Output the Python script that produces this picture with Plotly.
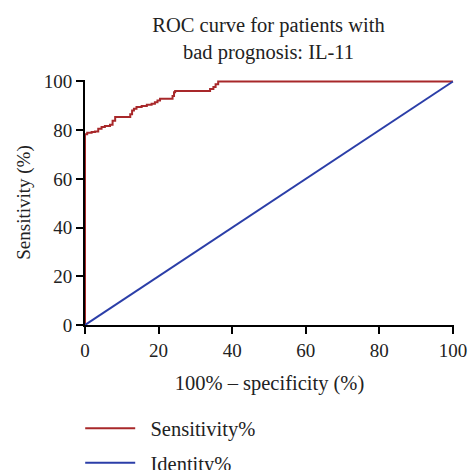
import plotly.graph_objects as go

# ROC curve points (100% - specificity, sensitivity)
fpr = [0, 0, 0.6, 1.8, 2.7, 3.6, 4.5, 5.4, 6.8, 7.5, 8.2, 12.3, 12.8, 13.3, 14.0,
       15.4, 16.8, 18.1, 19.0, 19.7, 20.4, 23.8, 24.2, 24.5, 34.0, 34.9, 35.5, 36.2, 100]
sens = [0, 78.3, 78.9, 79.2, 79.5, 80.6, 81.3, 81.7, 82.2, 83.9, 85.4, 86.5, 88.1, 88.8, 89.5,
        89.9, 90.4, 90.8, 91.5, 92.2, 92.9, 94.0, 95.6, 96.1, 96.9, 97.7, 98.9, 100, 100]
identity_x = [0, 100]
identity_y = [0, 100]
ticks = [0, 20, 40, 60, 80, 100]

FONT = "Liberation Serif"
RED = "#a8282a"
BLUE = "#2b3ea8"
TXT = "#222"

fig = go.Figure()
fig.add_trace(go.Scatter(x=fpr, y=sens, mode="lines", line=dict(color=RED, width=2, shape="hv"),
                         name="\u2002Sensitivity%", legendgroup="a"))
fig.add_trace(go.Scatter(x=identity_x, y=identity_y, mode="lines", line=dict(color=BLUE, width=2),
                         name="\u2002Identity%", legendgroup="b"))

axis_common = dict(tickvals=ticks, showgrid=False, zeroline=False,
                   showline=True, linecolor="black", linewidth=2,
                   ticks="outside", ticklen=7, tickwidth=2, tickcolor="black",
                   tickfont=dict(family=FONT, size=19, color=TXT))
fig.update_xaxes(**axis_common, range=[0, 100.3],
                 title=dict(text="100% \u2013 specificity (%)", font=dict(family=FONT, size=20.5, color=TXT),
                            standoff=16))
fig.update_yaxes(**axis_common, range=[0, 100.6],
                 title=dict(text="Sensitivity (%)", font=dict(family=FONT, size=19, color=TXT),
                            standoff=8))

fig.update_layout(
    width=469, height=470,
    margin=dict(l=85, r=15, t=80, b=145, autoexpand=False),
    paper_bgcolor="white", plot_bgcolor="white",
    title=dict(text="ROC curve for patients with<br>bad prognosis: IL-11",
               font=dict(family=FONT, size=20.5, color=TXT),
               x=0.5725, xanchor="center", y=0.932, yanchor="top"),
    showlegend=True,
    legend=dict(x=-0.013, xanchor="left", y=-0.34, yanchor="top",
                font=dict(family=FONT, size=20.5, color=TXT),
                tracegroupgap=5, itemwidth=50, bgcolor="rgba(0,0,0,0)"),
)

fig.write_html("out.html", config={"displayModeBar": False},
               post_script="document.body.style.margin='0';document.body.style.overflow='hidden';")
